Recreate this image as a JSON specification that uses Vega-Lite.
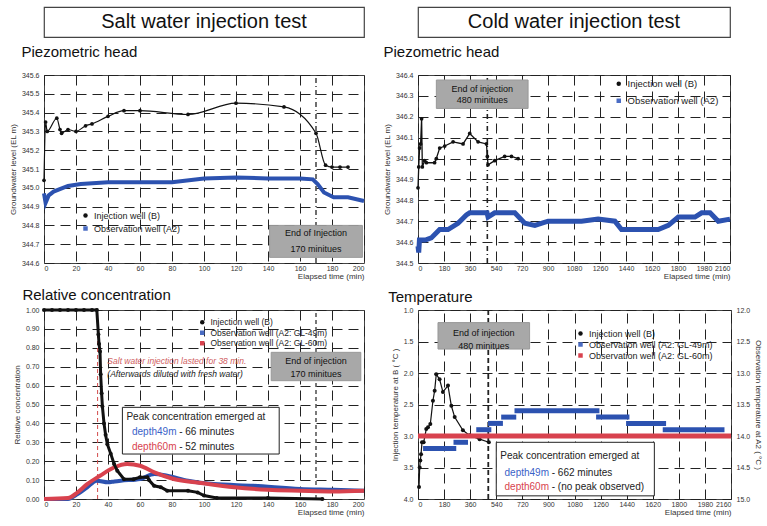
{
  "$schema": "https://vega.github.io/schema/vega-lite/v6.json",
  "padding": {"left": 8, "top": 6, "right": 0, "bottom": 0},
  "background": "white",
  "config": {
    "font": "Liberation Sans",
    "view": {"stroke": "#444", "strokeWidth": 1},
    "title": {"font": "Liberation Sans", "fontSize": 15, "fontWeight": "normal", "anchor": "start", "color": "#111", "offset": 6},
    "axis": {"labelFont": "Liberation Sans", "labelFontSize": 7, "labelColor": "#333", "titleFont": "Liberation Sans", "titleFontSize": 8, "titleFontWeight": "normal", "titleColor": "#333", "ticks": false, "domain": false, "grid": true, "gridColor": "#222", "gridDash": [10, 6], "gridWidth": 1, "labelPadding": 5},
    "axisX": {"titleAnchor": "end", "titlePadding": 1, "labelPadding": 1},
    "axisY": {"titlePadding": 4},
    "legend": {"orient": "none", "title": null, "labelFont": "Liberation Sans", "labelFontSize": 9, "labelColor": "#222", "symbolSize": 20, "padding": 0, "rowPadding": 3, "symbolStrokeWidth": 0}
  },
  "resolve": {"scale": {"color": "independent", "shape": "independent"}, "legend": {"color": "independent", "shape": "independent"}},
  "datasets": {
    "tl": [
      {"t": 0, "v": 345.04, "s": "Injection well (B)"},
      {"t": 1, "v": 345.35, "s": "Injection well (B)"},
      {"t": 2, "v": 345.30, "s": "Injection well (B)"},
      {"t": 8, "v": 345.37, "s": "Injection well (B)"},
      {"t": 10, "v": 345.31, "s": "Injection well (B)"},
      {"t": 11, "v": 345.29, "s": "Injection well (B)"},
      {"t": 15, "v": 345.31, "s": "Injection well (B)"},
      {"t": 20, "v": 345.30, "s": "Injection well (B)"},
      {"t": 26, "v": 345.33, "s": "Injection well (B)"},
      {"t": 30, "v": 345.34, "s": "Injection well (B)"},
      {"t": 40, "v": 345.38, "s": "Injection well (B)"},
      {"t": 50, "v": 345.41, "s": "Injection well (B)"},
      {"t": 60, "v": 345.41, "s": "Injection well (B)"},
      {"t": 90, "v": 345.39, "s": "Injection well (B)"},
      {"t": 120, "v": 345.45, "s": "Injection well (B)"},
      {"t": 150, "v": 345.43, "s": "Injection well (B)"},
      {"t": 170, "v": 345.29, "s": "Injection well (B)"},
      {"t": 176, "v": 345.12, "s": "Injection well (B)"},
      {"t": 180, "v": 345.11, "s": "Injection well (B)"},
      {"t": 185, "v": 345.11, "s": "Injection well (B)"},
      {"t": 190, "v": 345.11, "s": "Injection well (B)"},
      {"t": 0, "v": 344.97, "s": "Observation well (A2)"},
      {"t": 1, "v": 344.92, "s": "Observation well (A2)"},
      {"t": 3, "v": 344.96, "s": "Observation well (A2)"},
      {"t": 6, "v": 344.98, "s": "Observation well (A2)"},
      {"t": 15, "v": 345.01, "s": "Observation well (A2)"},
      {"t": 23, "v": 345.02, "s": "Observation well (A2)"},
      {"t": 40, "v": 345.03, "s": "Observation well (A2)"},
      {"t": 60, "v": 345.03, "s": "Observation well (A2)"},
      {"t": 80, "v": 345.03, "s": "Observation well (A2)"},
      {"t": 100, "v": 345.05, "s": "Observation well (A2)"},
      {"t": 120, "v": 345.055, "s": "Observation well (A2)"},
      {"t": 140, "v": 345.05, "s": "Observation well (A2)"},
      {"t": 160, "v": 345.05, "s": "Observation well (A2)"},
      {"t": 168, "v": 345.045, "s": "Observation well (A2)"},
      {"t": 171, "v": 345.02, "s": "Observation well (A2)"},
      {"t": 175, "v": 344.975, "s": "Observation well (A2)"},
      {"t": 181, "v": 344.95, "s": "Observation well (A2)"},
      {"t": 190, "v": 344.95, "s": "Observation well (A2)"},
      {"t": 200, "v": 344.93, "s": "Observation well (A2)"}
    ],
    "tr": [
      {"t": 0, "v": 344.86, "s": "Injection well (B)"},
      {"t": 5, "v": 344.96, "s": "Injection well (B)"},
      {"t": 11, "v": 345.05, "s": "Injection well (B)"},
      {"t": 18, "v": 345.07, "s": "Injection well (B)"},
      {"t": 25, "v": 345.19, "s": "Injection well (B)"},
      {"t": 30, "v": 344.96, "s": "Injection well (B)"},
      {"t": 46, "v": 344.99, "s": "Injection well (B)"},
      {"t": 58, "v": 344.98, "s": "Injection well (B)"},
      {"t": 115, "v": 344.98, "s": "Injection well (B)"},
      {"t": 127, "v": 345.00, "s": "Injection well (B)"},
      {"t": 150, "v": 345.05, "s": "Injection well (B)"},
      {"t": 185, "v": 345.06, "s": "Injection well (B)"},
      {"t": 243, "v": 345.08, "s": "Injection well (B)"},
      {"t": 312, "v": 345.07, "s": "Injection well (B)"},
      {"t": 358, "v": 345.12, "s": "Injection well (B)"},
      {"t": 416, "v": 345.08, "s": "Injection well (B)"},
      {"t": 474, "v": 345.07, "s": "Injection well (B)"},
      {"t": 480, "v": 345.01, "s": "Injection well (B)"},
      {"t": 485, "v": 344.97, "s": "Injection well (B)"},
      {"t": 531, "v": 344.99, "s": "Injection well (B)"},
      {"t": 600, "v": 345.01, "s": "Injection well (B)"},
      {"t": 647, "v": 345.01, "s": "Injection well (B)"},
      {"t": 693, "v": 345.00, "s": "Injection well (B)"},
      {"t": 0, "v": 344.58, "s": "Observation well (A2)"},
      {"t": 5, "v": 344.55, "s": "Observation well (A2)"},
      {"t": 10, "v": 344.61, "s": "Observation well (A2)"},
      {"t": 50, "v": 344.61, "s": "Observation well (A2)"},
      {"t": 92, "v": 344.62, "s": "Observation well (A2)"},
      {"t": 150, "v": 344.66, "s": "Observation well (A2)"},
      {"t": 208, "v": 344.66, "s": "Observation well (A2)"},
      {"t": 277, "v": 344.69, "s": "Observation well (A2)"},
      {"t": 335, "v": 344.73, "s": "Observation well (A2)"},
      {"t": 358, "v": 344.74, "s": "Observation well (A2)"},
      {"t": 439, "v": 344.74, "s": "Observation well (A2)"},
      {"t": 478, "v": 344.74, "s": "Observation well (A2)"},
      {"t": 485, "v": 344.72, "s": "Observation well (A2)"},
      {"t": 531, "v": 344.74, "s": "Observation well (A2)"},
      {"t": 670, "v": 344.74, "s": "Observation well (A2)"},
      {"t": 739, "v": 344.69, "s": "Observation well (A2)"},
      {"t": 809, "v": 344.68, "s": "Observation well (A2)"},
      {"t": 901, "v": 344.70, "s": "Observation well (A2)"},
      {"t": 1132, "v": 344.70, "s": "Observation well (A2)"},
      {"t": 1247, "v": 344.71, "s": "Observation well (A2)"},
      {"t": 1363, "v": 344.70, "s": "Observation well (A2)"},
      {"t": 1409, "v": 344.66, "s": "Observation well (A2)"},
      {"t": 1502, "v": 344.66, "s": "Observation well (A2)"},
      {"t": 1663, "v": 344.66, "s": "Observation well (A2)"},
      {"t": 1733, "v": 344.68, "s": "Observation well (A2)"},
      {"t": 1802, "v": 344.72, "s": "Observation well (A2)"},
      {"t": 1917, "v": 344.72, "s": "Observation well (A2)"},
      {"t": 1964, "v": 344.74, "s": "Observation well (A2)"},
      {"t": 2022, "v": 344.74, "s": "Observation well (A2)"},
      {"t": 2079, "v": 344.70, "s": "Observation well (A2)"},
      {"t": 2160, "v": 344.71, "s": "Observation well (A2)"}
    ],
    "bl": [
      {"t": 0, "v": 1.0, "s": "Injection well (B)"},
      {"t": 5, "v": 1.0, "s": "Injection well (B)"},
      {"t": 10, "v": 1.0, "s": "Injection well (B)"},
      {"t": 15, "v": 1.0, "s": "Injection well (B)"},
      {"t": 20, "v": 1.0, "s": "Injection well (B)"},
      {"t": 25, "v": 1.0, "s": "Injection well (B)"},
      {"t": 30, "v": 1.0, "s": "Injection well (B)"},
      {"t": 33, "v": 1.0, "s": "Injection well (B)"},
      {"t": 34, "v": 0.87, "s": "Injection well (B)"},
      {"t": 34.4, "v": 0.82, "s": "Injection well (B)"},
      {"t": 35, "v": 0.78, "s": "Injection well (B)"},
      {"t": 35.4, "v": 0.66, "s": "Injection well (B)"},
      {"t": 36, "v": 0.56, "s": "Injection well (B)"},
      {"t": 36.5, "v": 0.49, "s": "Injection well (B)"},
      {"t": 37.5, "v": 0.40, "s": "Injection well (B)"},
      {"t": 38.5, "v": 0.34, "s": "Injection well (B)"},
      {"t": 39.6, "v": 0.29, "s": "Injection well (B)"},
      {"t": 41.7, "v": 0.24, "s": "Injection well (B)"},
      {"t": 43.8, "v": 0.185, "s": "Injection well (B)"},
      {"t": 45.8, "v": 0.15, "s": "Injection well (B)"},
      {"t": 50, "v": 0.105, "s": "Injection well (B)"},
      {"t": 56, "v": 0.105, "s": "Injection well (B)"},
      {"t": 60, "v": 0.115, "s": "Injection well (B)"},
      {"t": 64.6, "v": 0.115, "s": "Injection well (B)"},
      {"t": 65.6, "v": 0.10, "s": "Injection well (B)"},
      {"t": 68.8, "v": 0.07, "s": "Injection well (B)"},
      {"t": 73, "v": 0.062, "s": "Injection well (B)"},
      {"t": 77, "v": 0.044, "s": "Injection well (B)"},
      {"t": 90, "v": 0.044, "s": "Injection well (B)"},
      {"t": 96, "v": 0.035, "s": "Injection well (B)"},
      {"t": 100, "v": 0.018, "s": "Injection well (B)"},
      {"t": 108, "v": 0.005, "s": "Injection well (B)"},
      {"t": 140, "v": 0.005, "s": "Injection well (B)"},
      {"t": 174, "v": 0.0, "s": "Injection well (B)"},
      {"t": 0, "v": 0.0, "s": "Observation well (A2: GL-49m)"},
      {"t": 15, "v": 0.0, "s": "Observation well (A2: GL-49m)"},
      {"t": 21, "v": 0.026, "s": "Observation well (A2: GL-49m)"},
      {"t": 27, "v": 0.062, "s": "Observation well (A2: GL-49m)"},
      {"t": 33, "v": 0.097, "s": "Observation well (A2: GL-49m)"},
      {"t": 40, "v": 0.088, "s": "Observation well (A2: GL-49m)"},
      {"t": 44, "v": 0.093, "s": "Observation well (A2: GL-49m)"},
      {"t": 48, "v": 0.097, "s": "Observation well (A2: GL-49m)"},
      {"t": 60, "v": 0.106, "s": "Observation well (A2: GL-49m)"},
      {"t": 69, "v": 0.132, "s": "Observation well (A2: GL-49m)"},
      {"t": 77, "v": 0.123, "s": "Observation well (A2: GL-49m)"},
      {"t": 90, "v": 0.097, "s": "Observation well (A2: GL-49m)"},
      {"t": 106, "v": 0.079, "s": "Observation well (A2: GL-49m)"},
      {"t": 131, "v": 0.070, "s": "Observation well (A2: GL-49m)"},
      {"t": 160, "v": 0.053, "s": "Observation well (A2: GL-49m)"},
      {"t": 181, "v": 0.049, "s": "Observation well (A2: GL-49m)"},
      {"t": 200, "v": 0.044, "s": "Observation well (A2: GL-49m)"},
      {"t": 0, "v": 0.0, "s": "Observation well (A2: GL-60m)"},
      {"t": 15, "v": 0.005, "s": "Observation well (A2: GL-60m)"},
      {"t": 21, "v": 0.035, "s": "Observation well (A2: GL-60m)"},
      {"t": 27, "v": 0.079, "s": "Observation well (A2: GL-60m)"},
      {"t": 35, "v": 0.123, "s": "Observation well (A2: GL-60m)"},
      {"t": 44, "v": 0.168, "s": "Observation well (A2: GL-60m)"},
      {"t": 52, "v": 0.185, "s": "Observation well (A2: GL-60m)"},
      {"t": 60, "v": 0.176, "s": "Observation well (A2: GL-60m)"},
      {"t": 69, "v": 0.141, "s": "Observation well (A2: GL-60m)"},
      {"t": 81, "v": 0.106, "s": "Observation well (A2: GL-60m)"},
      {"t": 98, "v": 0.085, "s": "Observation well (A2: GL-60m)"},
      {"t": 119, "v": 0.062, "s": "Observation well (A2: GL-60m)"},
      {"t": 140, "v": 0.049, "s": "Observation well (A2: GL-60m)"},
      {"t": 160, "v": 0.044, "s": "Observation well (A2: GL-60m)"},
      {"t": 181, "v": 0.040, "s": "Observation well (A2: GL-60m)"},
      {"t": 200, "v": 0.044, "s": "Observation well (A2: GL-60m)"}
    ],
    "br": [
      {"t": 7, "v": 3.81, "s": "Injection well (B)"},
      {"t": 11.5, "v": 3.5, "s": "Injection well (B)"},
      {"t": 16, "v": 3.39, "s": "Injection well (B)"},
      {"t": 21, "v": 3.29, "s": "Injection well (B)"},
      {"t": 27.6, "v": 3.1, "s": "Injection well (B)"},
      {"t": 39, "v": 3.1, "s": "Injection well (B)"},
      {"t": 57, "v": 2.89, "s": "Injection well (B)"},
      {"t": 69, "v": 2.86, "s": "Injection well (B)"},
      {"t": 85, "v": 2.81, "s": "Injection well (B)"},
      {"t": 103, "v": 2.44, "s": "Injection well (B)"},
      {"t": 115, "v": 2.28, "s": "Injection well (B)"},
      {"t": 126, "v": 2.02, "s": "Injection well (B)"},
      {"t": 149, "v": 2.10, "s": "Injection well (B)"},
      {"t": 172, "v": 2.30, "s": "Injection well (B)"},
      {"t": 207, "v": 2.20, "s": "Injection well (B)"},
      {"t": 230, "v": 2.52, "s": "Injection well (B)"},
      {"t": 253, "v": 2.70, "s": "Injection well (B)"},
      {"t": 310, "v": 2.91, "s": "Injection well (B)"},
      {"t": 356, "v": 2.99, "s": "Injection well (B)"},
      {"t": 425, "v": 3.05, "s": "Injection well (B)"},
      {"t": 489, "v": 3.10, "s": "Injection well (B)"}
    ],
    "brseg": [
      {"t": 35, "t2": 264, "v": 14.2, "s": "Observation well (A2: GL-49m)"},
      {"t": 245, "t2": 345, "v": 14.1, "s": "Observation well (A2: GL-49m)"},
      {"t": 402, "t2": 506, "v": 13.9, "s": "Observation well (A2: GL-49m)"},
      {"t": 483, "t2": 586, "v": 13.8, "s": "Observation well (A2: GL-49m)"},
      {"t": 574, "t2": 678, "v": 13.7, "s": "Observation well (A2: GL-49m)"},
      {"t": 666, "t2": 1252, "v": 13.6, "s": "Observation well (A2: GL-49m)"},
      {"t": 1229, "t2": 1459, "v": 13.7, "s": "Observation well (A2: GL-49m)"},
      {"t": 1436, "t2": 1712, "v": 13.8, "s": "Observation well (A2: GL-49m)"},
      {"t": 1689, "t2": 2115, "v": 13.9, "s": "Observation well (A2: GL-49m)"},
      {"t": 0, "t2": 2160, "v": 14.0, "s": "Observation well (A2: GL-60m)"}
    ],
    "boxes": [
      {"p": "tl", "t": 141, "t2": 199, "v": 344.80, "v2": 344.63},
      {"p": "tr", "t": 127, "t2": 762, "v": 345.376, "v2": 345.24},
      {"p": "bl", "t": 142, "t2": 198, "v": 0.776, "v2": 0.626},
      {"p": "br", "t": 138, "t2": 770, "v": 1.20, "v2": 1.62}
    ],
    "boxtext": [
      {"p": "tl", "t": 170, "v": 344.757, "label": "End of Injection"},
      {"p": "tl", "t": 170, "v": 344.675, "label": "170 minitues"},
      {"p": "tr", "t": 445, "v": 345.335, "label": "End of injection"},
      {"p": "tr", "t": 445, "v": 345.278, "label": "480 minitues"},
      {"p": "bl", "t": 170, "v": 0.732, "label": "End of injection"},
      {"p": "bl", "t": 170, "v": 0.664, "label": "170 minitues"},
      {"p": "br", "t": 454, "v": 1.36, "label": "End of injection"},
      {"p": "br", "t": 454, "v": 1.57, "label": "480 minitues"}
    ],
    "peakbox": [
      {"p": "bl", "t": 49, "t2": 147, "v": 0.485, "v2": 0.238},
      {"p": "br", "t": 540, "t2": 1631, "v": 3.10, "v2": 3.95}
    ],
    "peaktext": [
      {"p": "bl", "k": "plain", "t": 51.5, "v": 0.432, "label": "Peak concentration emerged at"},
      {"p": "bl", "k": "d49", "t": 55, "v": 0.353, "label": "depth49m"},
      {"p": "bl", "k": "plain", "t": 84.5, "v": 0.353, "label": "- 66 minutes"},
      {"p": "bl", "k": "d60", "t": 55, "v": 0.273, "label": "depth60m"},
      {"p": "bl", "k": "plain", "t": 84.5, "v": 0.273, "label": "- 52 minutes"},
      {"p": "br", "k": "plain", "t": 568, "v": 3.31, "label": "Peak concentration emerged at"},
      {"p": "br", "k": "d49", "t": 597, "v": 3.58, "label": "depth49m"},
      {"p": "br", "k": "plain", "t": 923, "v": 3.58, "label": "- 662 minutes"},
      {"p": "br", "k": "d60", "t": 597, "v": 3.81, "label": "depth60m"},
      {"p": "br", "k": "plain", "t": 923, "v": 3.81, "label": "- (no peak observed)"}
    ],
    "notes": [
      {"k": "red", "t": 39.6, "v": 0.73, "label": "Salt water injection lasted for 38 min."},
      {"k": "plain", "t": 39.6, "v": 0.663, "label": "(Afterwards diluted with fresh water)"}
    ],
    "ends": [
      {"p": "tl", "k": "end", "t": 170, "v": 344.6, "v2": 345.6},
      {"p": "tr", "k": "end", "t": 480, "v": 344.5, "v2": 345.4},
      {"p": "bl", "k": "end", "t": 170, "v": 0, "v2": 1},
      {"p": "bl", "k": "salt", "t": 33.5, "v": 0, "v2": 1},
      {"p": "br", "k": "end", "t": 485, "v": 1, "v2": 4}
    ],
    "headers": [
      {"p": "l", "h": "Salt water injection test"},
      {"p": "r", "h": "Cold water injection test"}
    ]
  },
  "columns": 2,
  "spacing": {"row": 6, "column": 9},
  "concat": [
    {
      "width": 320, "height": 30,
      "view": {"stroke": "#444", "strokeWidth": 1.2},
      "data": {"name": "headers"},
      "transform": [{"filter": "datum.p === 'l'"}],
      "mark": {"type": "text", "fontSize": 20, "font": "Liberation Sans", "color": "#111"},
      "encoding": {"text": {"field": "h"}}
    },
    {
      "width": 312, "height": 30,
      "view": {"stroke": "#444", "strokeWidth": 1.2},
      "data": {"name": "headers"},
      "transform": [{"filter": "datum.p === 'r'"}],
      "mark": {"type": "text", "fontSize": 20, "font": "Liberation Sans", "color": "#111"},
      "encoding": {"text": {"field": "h"}}
    },
    {
      "width": 320, "height": 188,
      "title": {"text": "Piezometric head", "dx": 12, "offset": 11},
      "encoding": {
        "x": {"field": "t", "type": "quantitative", "scale": {"domain": [0, 200], "nice": false}, "axis": {"values": [0, 20, 40, 60, 80, 100, 120, 140, 160, 180, 200], "title": "Elapsed time (min)"}},
        "y": {"field": "v", "type": "quantitative", "scale": {"domain": [344.6, 345.6], "nice": false, "zero": false}, "axis": {"values": [344.6, 344.7, 344.8, 344.9, 345.0, 345.1, 345.2, 345.3, 345.4, 345.5, 345.6], "format": ".1f", "title": "Groundwater level (EL m)"}}
      },
      "layer": [
        {
          "data": {"name": "ends"},
          "transform": [{"filter": "datum.p === 'tl'"}],
          "mark": {"type": "rule", "color": "#222", "strokeWidth": 1.3, "strokeDash": [5, 3, 1, 3]},
          "encoding": {"y2": {"field": "v2"}}
        },
        {
          "data": {"name": "tl"},
          "transform": [{"filter": "datum.s === 'Observation well (A2)'"}],
          "mark": {"type": "line", "color": "#2c52b0", "strokeWidth": 4}
        },
        {
          "data": {"name": "tl"},
          "transform": [{"filter": "datum.s === 'Injection well (B)'"}],
          "mark": {"type": "line", "color": "#111", "strokeWidth": 1.2, "interpolate": "monotone"}
        },
        {
          "data": {"name": "tl"},
          "transform": [{"filter": "datum.s === 'Injection well (B)'"}],
          "mark": {"type": "point", "filled": true, "size": 14, "opacity": 1},
          "encoding": {
            "color": {"field": "s", "type": "nominal", "scale": {"domain": ["Injection well (B)", "Observation well (A2)"], "range": ["#111111", "#4a6cc4"]}, "legend": {"legendX": 37, "legendY": 136, "rowPadding": 3}},
            "shape": {"field": "s", "type": "nominal", "scale": {"domain": ["Injection well (B)", "Observation well (A2)"], "range": ["circle", "square"]}, "legend": {"legendX": 37, "legendY": 136, "rowPadding": 3}}
          }
        },
        {
          "data": {"name": "boxes"},
          "transform": [{"filter": "datum.p === 'tl'"}],
          "mark": {"type": "rect", "fill": "#a8a8a8", "stroke": "#999"},
          "encoding": {"x2": {"field": "t2"}, "y2": {"field": "v2"}}
        },
        {
          "data": {"name": "boxtext"},
          "transform": [{"filter": "datum.p === 'tl'"}],
          "mark": {"type": "text", "fontSize": 9, "color": "#111"},
          "encoding": {"text": {"field": "label"}}
        }
      ]
    },
    {
      "width": 312, "height": 188,
      "title": {"text": "Piezometric head", "dx": 0, "offset": 11},
      "encoding": {
        "x": {"field": "t", "type": "quantitative", "scale": {"domain": [0, 2160], "nice": false}, "axis": {"values": [0, 180, 360, 540, 720, 900, 1080, 1260, 1440, 1620, 1800, 1980, 2160], "format": "d", "title": "Elapsed time (min)"}},
        "y": {"field": "v", "type": "quantitative", "scale": {"domain": [344.5, 345.4], "nice": false, "zero": false}, "axis": {"values": [344.5, 344.6, 344.7, 344.8, 344.9, 345.0, 345.1, 345.2, 345.3, 345.4], "labelExpr": "datum.value > 345.05 ? format(datum.value + 1, '.1f') : format(datum.value, '.1f')", "title": "Groundwater level (EL m)"}}
      },
      "layer": [
        {
          "data": {"name": "ends"},
          "transform": [{"filter": "datum.p === 'tr'"}],
          "mark": {"type": "rule", "color": "#222", "strokeWidth": 1.6, "strokeDash": [5, 3, 1, 3]},
          "encoding": {"y2": {"field": "v2"}}
        },
        {
          "data": {"name": "tr"},
          "transform": [{"filter": "datum.s === 'Observation well (A2)'"}],
          "mark": {"type": "line", "color": "#2c52b0", "strokeWidth": 5}
        },
        {
          "data": {"name": "tr"},
          "transform": [{"filter": "datum.s === 'Injection well (B)'"}],
          "mark": {"type": "line", "color": "#111", "strokeWidth": 1.3}
        },
        {
          "data": {"name": "tr"},
          "transform": [{"filter": "datum.s === 'Injection well (B)'"}],
          "mark": {"type": "point", "filled": true, "size": 14, "opacity": 1},
          "encoding": {
            "color": {"field": "s", "type": "nominal", "scale": {"domain": ["Injection well (B)", "Observation well (A2)"], "range": ["#111111", "#4a6cc4"]}, "legend": {"legendX": 196, "legendY": 4, "rowPadding": 6, "labelFontSize": 9.5}},
            "shape": {"field": "s", "type": "nominal", "scale": {"domain": ["Injection well (B)", "Observation well (A2)"], "range": ["circle", "square"]}, "legend": {"legendX": 196, "legendY": 4, "rowPadding": 6, "labelFontSize": 9.5}}
          }
        },
        {
          "data": {"name": "boxes"},
          "transform": [{"filter": "datum.p === 'tr'"}],
          "mark": {"type": "rect", "fill": "#a8a8a8", "stroke": "#999"},
          "encoding": {"x2": {"field": "t2"}, "y2": {"field": "v2"}}
        },
        {
          "data": {"name": "boxtext"},
          "transform": [{"filter": "datum.p === 'tr'"}],
          "mark": {"type": "text", "fontSize": 9, "color": "#111"},
          "encoding": {"text": {"field": "label"}}
        }
      ]
    },
    {
      "width": 320, "height": 189,
      "title": {"text": "Relative concentration", "dx": 9, "offset": 1},
      "encoding": {
        "x": {"field": "t", "type": "quantitative", "scale": {"domain": [0, 200], "nice": false}, "axis": {"values": [0, 20, 40, 60, 80, 100, 120, 140, 160, 180, 200], "title": "Elapsed time (min)"}},
        "y": {"field": "v", "type": "quantitative", "scale": {"domain": [0, 1], "nice": false}, "axis": {"values": [0, 0.1, 0.2, 0.3, 0.4, 0.5, 0.6, 0.7, 0.8, 0.9, 1.0], "format": ".2f", "title": "Relative concentration"}}
      },
      "layer": [
        {
          "data": {"name": "ends"},
          "transform": [{"filter": "datum.p === 'bl' && datum.k === 'end'"}],
          "mark": {"type": "rule", "color": "#222", "strokeWidth": 1.2, "strokeDash": [4, 3]},
          "encoding": {"y2": {"field": "v2"}}
        },
        {
          "data": {"name": "ends"},
          "transform": [{"filter": "datum.p === 'bl' && datum.k === 'salt'"}],
          "mark": {"type": "rule", "color": "#d24a4a", "strokeWidth": 1, "strokeDash": [4, 3]},
          "encoding": {"y2": {"field": "v2"}}
        },
        {
          "data": {"name": "bl"},
          "transform": [{"filter": "datum.s === 'Observation well (A2: GL-49m)'"}],
          "mark": {"type": "line", "color": "#2c52b0", "strokeWidth": 4, "interpolate": "monotone"}
        },
        {
          "data": {"name": "bl"},
          "transform": [{"filter": "datum.s === 'Observation well (A2: GL-60m)'"}],
          "mark": {"type": "line", "color": "#d8424e", "strokeWidth": 4, "interpolate": "monotone"}
        },
        {
          "data": {"name": "bl"},
          "transform": [{"filter": "datum.s === 'Injection well (B)'"}],
          "mark": {"type": "line", "color": "#111", "strokeWidth": 3}
        },
        {
          "data": {"name": "bl"},
          "transform": [{"filter": "datum.s === 'Injection well (B)'"}],
          "mark": {"type": "point", "filled": true, "size": 16, "opacity": 1},
          "encoding": {
            "color": {"field": "s", "type": "nominal", "scale": {"domain": ["Injection well (B)", "Observation well (A2: GL-49m)", "Observation well (A2: GL-60m)"], "range": ["#111111", "#4a6cc4", "#d8424e"]}, "legend": {"legendX": 154, "legendY": 8, "rowPadding": 1.5, "labelFontSize": 8.5}},
            "shape": {"field": "s", "type": "nominal", "scale": {"domain": ["Injection well (B)", "Observation well (A2: GL-49m)", "Observation well (A2: GL-60m)"], "range": ["circle", "square", "square"]}, "legend": {"legendX": 154, "legendY": 8, "rowPadding": 1.5, "labelFontSize": 8.5}}
          }
        },
        {
          "data": {"name": "boxes"},
          "transform": [{"filter": "datum.p === 'bl'"}],
          "mark": {"type": "rect", "fill": "#a8a8a8", "stroke": "#999"},
          "encoding": {"x2": {"field": "t2"}, "y2": {"field": "v2"}}
        },
        {
          "data": {"name": "boxtext"},
          "transform": [{"filter": "datum.p === 'bl'"}],
          "mark": {"type": "text", "fontSize": 9, "color": "#111"},
          "encoding": {"text": {"field": "label"}}
        },
        {
          "data": {"name": "notes"},
          "transform": [{"filter": "datum.k === 'red'"}],
          "mark": {"type": "text", "fontSize": 8.5, "fontStyle": "italic", "color": "#d0605f", "align": "left"},
          "encoding": {"text": {"field": "label"}}
        },
        {
          "data": {"name": "notes"},
          "transform": [{"filter": "datum.k === 'plain'"}],
          "mark": {"type": "text", "fontSize": 8.5, "fontStyle": "italic", "color": "#222", "align": "left"},
          "encoding": {"text": {"field": "label"}}
        },
        {
          "data": {"name": "peakbox"},
          "transform": [{"filter": "datum.p === 'bl'"}],
          "mark": {"type": "rect", "fill": "white", "stroke": "#222", "strokeWidth": 1},
          "encoding": {"x2": {"field": "t2"}, "y2": {"field": "v2"}}
        },
        {
          "data": {"name": "peaktext"},
          "transform": [{"filter": "datum.p === 'bl' && datum.k === 'plain'"}],
          "mark": {"type": "text", "fontSize": 10, "color": "#222", "align": "left"},
          "encoding": {"text": {"field": "label"}}
        },
        {
          "data": {"name": "peaktext"},
          "transform": [{"filter": "datum.p === 'bl' && datum.k === 'd49'"}],
          "mark": {"type": "text", "fontSize": 10, "color": "#3a62c8", "align": "left"},
          "encoding": {"text": {"field": "label"}}
        },
        {
          "data": {"name": "peaktext"},
          "transform": [{"filter": "datum.p === 'bl' && datum.k === 'd60'"}],
          "mark": {"type": "text", "fontSize": 10, "color": "#d8424e", "align": "left"},
          "encoding": {"text": {"field": "label"}}
        }
      ]
    },
    {
      "width": 313, "height": 189,
      "title": {"text": "Temperature", "dx": -3, "offset": 1},
      "resolve": {"scale": {"y": "independent"}},
      "encoding": {
        "x": {"field": "t", "type": "quantitative", "scale": {"domain": [0, 2160], "nice": false}, "axis": {"values": [0, 180, 360, 540, 720, 900, 1080, 1260, 1440, 1620, 1800, 1980, 2160], "format": "d", "title": "Elapsed time (min)"}}
      },
      "layer": [
        {
          "encoding": {
            "y": {"field": "v", "type": "quantitative", "scale": {"domain": [1, 4], "nice": false, "zero": false, "reverse": true}, "axis": {"values": [1, 1.5, 2, 2.5, 3, 3.5, 4], "format": ".1f", "title": "Injection temperature at B ( °C )"}}
          },
          "layer": [
            {
              "data": {"name": "ends"},
              "transform": [{"filter": "datum.p === 'br'"}],
              "mark": {"type": "rule", "color": "#222", "strokeWidth": 1.8, "strokeDash": [5, 3]},
              "encoding": {"y2": {"field": "v2"}}
            },
            {
              "data": {"name": "br"},
              "mark": {"type": "line", "color": "#111", "strokeWidth": 1.2}
            },
            {
              "data": {"name": "br"},
              "mark": {"type": "point", "filled": true, "size": 16, "opacity": 1},
              "encoding": {
                "color": {"field": "s", "type": "nominal", "scale": {"domain": ["Injection well (B)", "Observation well (A2: GL-49m)", "Observation well (A2: GL-60m)"], "range": ["#111111", "#4a6cc4", "#d8424e"]}, "legend": {"legendX": 158, "legendY": 19, "rowPadding": 1, "labelFontSize": 9}},
                "shape": {"field": "s", "type": "nominal", "scale": {"domain": ["Injection well (B)", "Observation well (A2: GL-49m)", "Observation well (A2: GL-60m)"], "range": ["circle", "square", "square"]}, "legend": {"legendX": 158, "legendY": 19, "rowPadding": 1, "labelFontSize": 9}}
              }
            },
            {
              "data": {"name": "boxes"},
              "transform": [{"filter": "datum.p === 'br'"}],
              "mark": {"type": "rect", "fill": "#a8a8a8", "stroke": "#999"},
              "encoding": {"x2": {"field": "t2"}, "y2": {"field": "v2"}}
            },
            {
              "data": {"name": "boxtext"},
              "transform": [{"filter": "datum.p === 'br'"}],
              "mark": {"type": "text", "fontSize": 9, "color": "#111"},
              "encoding": {"text": {"field": "label"}}
            },
            {
              "data": {"name": "peakbox"},
              "transform": [{"filter": "datum.p === 'br'"}],
              "mark": {"type": "rect", "fill": "white", "stroke": "#222", "strokeWidth": 1},
              "encoding": {"x2": {"field": "t2"}, "y2": {"field": "v2"}}
            },
            {
              "data": {"name": "peaktext"},
              "transform": [{"filter": "datum.p === 'br' && datum.k === 'plain'"}],
              "mark": {"type": "text", "fontSize": 10, "color": "#222", "align": "left"},
              "encoding": {"text": {"field": "label"}}
            },
            {
              "data": {"name": "peaktext"},
              "transform": [{"filter": "datum.p === 'br' && datum.k === 'd49'"}],
              "mark": {"type": "text", "fontSize": 10, "color": "#3a62c8", "align": "left"},
              "encoding": {"text": {"field": "label"}}
            },
            {
              "data": {"name": "peaktext"},
              "transform": [{"filter": "datum.p === 'br' && datum.k === 'd60'"}],
              "mark": {"type": "text", "fontSize": 10, "color": "#d8424e", "align": "left"},
              "encoding": {"text": {"field": "label"}}
            }
          ]
        },
        {
          "data": {"name": "brseg"},
          "encoding": {
            "y": {"field": "v", "type": "quantitative", "scale": {"domain": [12, 15], "nice": false, "zero": false, "reverse": true}, "axis": {"orient": "right", "grid": false, "values": [12, 12.5, 13, 13.5, 14, 14.5, 15], "format": ".1f", "title": "Observation temperature at A2 ( °C )"}},
            "x2": {"field": "t2"}
          },
          "layer": [
            {
              "transform": [{"filter": "datum.s === 'Observation well (A2: GL-60m)'"}],
              "mark": {"type": "rule", "color": "#d8424e", "strokeWidth": 5}
            },
            {
              "transform": [{"filter": "datum.s === 'Observation well (A2: GL-49m)'"}],
              "mark": {"type": "rule", "color": "#2c52b0", "strokeWidth": 5}
            }
          ]
        }
      ]
    }
  ]
}
